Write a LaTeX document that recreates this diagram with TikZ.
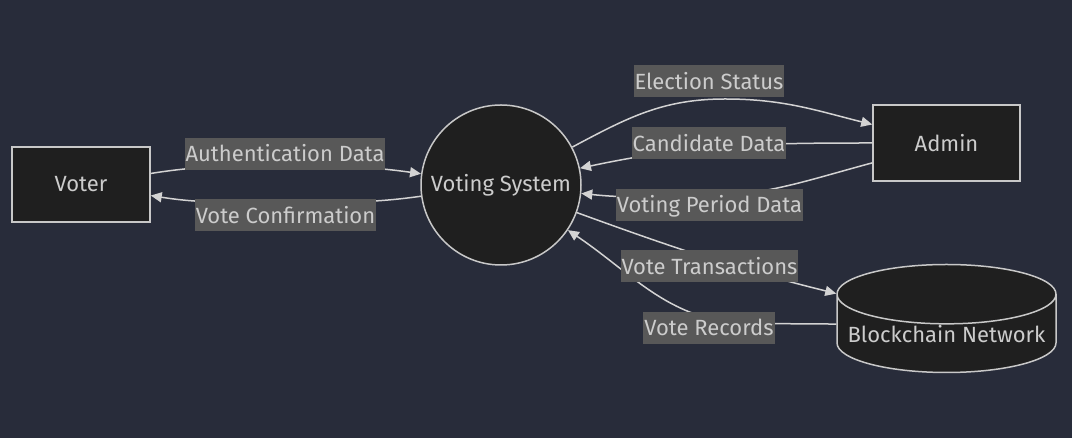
\documentclass[tikz,border=0pt]{standalone}
\usepackage{fontspec}
\setmainfont{Fira Sans}
\usepackage{xcolor}
\usepackage{tikz}
\usetikzlibrary{shapes.geometric,arrows.meta}
\definecolor{bgcol}{RGB}{40,44,58}
\definecolor{nodefill}{RGB}{31,31,31}
\definecolor{nodeline}{RGB}{200,200,200}
\definecolor{edgecol}{RGB}{211,211,211}
\definecolor{lblfill}{RGB}{88,88,88}
\definecolor{txt}{RGB}{204,204,204}
\tikzset{box/.style={rectangle,draw=nodeline,fill=nodefill,line width=1.5pt,text=txt,minimum width=138pt,minimum height=75pt},
hub/.style={circle,draw=nodeline,fill=nodefill,line width=1.5pt,text=txt,minimum size=160pt,inner sep=0pt},
store/.style={cylinder,shape border rotate=90,aspect=0.3,draw=nodeline,fill=nodefill,line width=1.5pt,text=txt,minimum width=219pt,minimum height=108pt,inner sep=0pt,anchor=shape center},
lbl/.style={fill=lblfill,text=txt,inner xsep=1pt,inner ysep=4pt,text height=20pt,text depth=4pt},
link/.style={draw=edgecol,line width=1.5pt}}

\begin{document}
\begin{tikzpicture}[x=1pt,y=1pt,>={Triangle[length=11pt,width=10pt]},font=\fontsize{22}{26}\selectfont]
        \fill[bgcol] (0,0) rectangle (1072,438);
        \useasboundingbox (0,0) rectangle (1072,438);

        \node[box] (voter) at (81,253.5) {Voter};
        \node[hub] (sys) at (501,253) {Voting System};
        \node[box,minimum width=147pt,minimum height=76pt] (admin) at (946.5,295) {Admin};
        \node[store] (chain) at (946.5,119.5) {Blockchain Network};

        % bends of the links, under the labels
        \coordinate (pAuth) at (285,272);
        \coordinate (pConf) at (285,236);
        \coordinate (pStat) at (725,339);
        \coordinate (pPer) at (690,241);
        \coordinate (pRec) at (752,114.5);

        \draw [link,->] (voter) to [out=9,in=180] (pAuth) to [out=0,in=172] (sys);
        \draw [link,->] (sys) to [out=188,in=0] (pConf) to [out=180,in=-9] (voter);
        \draw [link,->] (sys) to [out=28,in=180] (pStat) to [out=0,in=166] (admin);
        \draw [link,->] (admin) to [out=180,in=12] (sys);
        \draw [link,->] (admin) to [out=195,in=0] (pPer) to [out=180,in=-6] (sys);
        \draw [link,->] (sys) to [out=-20,in=166] (chain.160);
        \draw [link,->] (chain.175) -- (pRec) to [out=180,in=-34] (sys);

        \node[lbl] (auth) at (285,284) {Authentication Data};
        \node[lbl] (conf) at (285.5,222.5) {Vote Confirmation};
        \node[lbl] (stat) at (709,356.5) {Election Status};
        \node[lbl] (cand) at (709,294.5) {Candidate Data};
        \node[lbl] (per) at (709.5,233) {Voting Period Data};
        \node[lbl] (trans) at (709.5,171.5) {Vote Transactions};
        \node[lbl] (rec) at (709,110) {Vote Records};
\end{tikzpicture}
\end{document}
